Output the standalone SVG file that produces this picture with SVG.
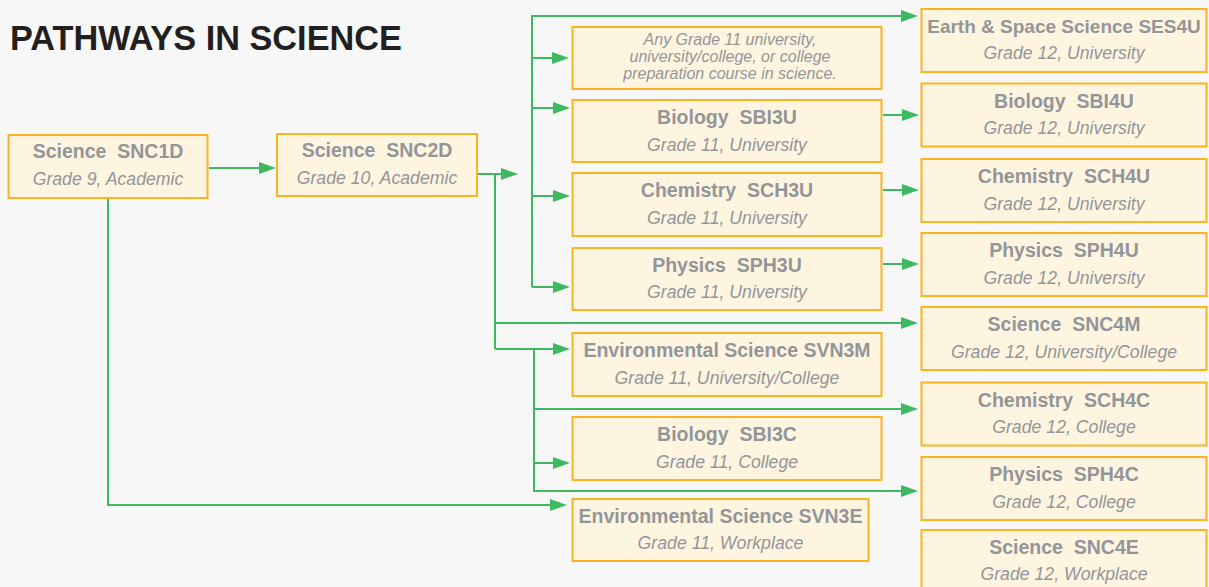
<svg xmlns="http://www.w3.org/2000/svg" width="1209" height="587" viewBox="0 0 1209 587">
<style>
.bg{fill:#f7f7f7}
.box{fill:#fef5e1;stroke:#fbb31f;stroke-width:2}
.t{font-family:"Liberation Sans",Arial,sans-serif;font-weight:bold;font-size:19.5px;fill:#939598;text-anchor:middle;white-space:pre}
.s{font-family:"Liberation Sans",Arial,sans-serif;font-style:italic;font-size:17.7px;fill:#939598;text-anchor:middle}
.n{font-family:"Liberation Sans",Arial,sans-serif;font-style:italic;font-size:16px;fill:#939598;text-anchor:middle}
.c{fill:none;stroke:#3fb862;stroke-width:2;marker-end:url(#ah)}
.c0{fill:none;stroke:#3fb862;stroke-width:2}
.title{font-family:"Liberation Sans",Arial,sans-serif;font-weight:bold;font-size:34.3px;fill:#231f20}
</style>
<defs>
<marker id="ah" markerUnits="userSpaceOnUse" markerWidth="17" markerHeight="12" refX="12" refY="6" orient="auto">
<path d="M0,0 L17,6 L0,12 Z" fill="#3fb862"/>
</marker>
</defs>
<rect class="bg" x="0" y="0" width="1209" height="587"/>
<text class="title" x="10" y="49.5">PATHWAYS IN SCIENCE</text>

<g id="connectors">
<path class="c" d="M209,168 H271"/>
<path class="c" d="M478,174 H513"/>
<path class="c0" d="M495,174 V349"/>
<path class="c" d="M495,349 H565"/>
<path class="c" d="M495,323 H913"/>
<path class="c" d="M532,287 V16 H913"/>
<path class="c" d="M532,287 H565"/>
<path class="c" d="M532,58 H564"/>
<path class="c" d="M532,108 H565"/>
<path class="c" d="M532,196 H565"/>
<path class="c" d="M534,349 V491 H913"/>
<path class="c" d="M534,409 H913"/>
<path class="c" d="M534,463 H565"/>
<path class="c" d="M883,115 H914"/>
<path class="c" d="M883,190 H914"/>
<path class="c" d="M883,264 H914"/>
<path class="c" d="M108,198 V505 H562"/>
</g>

<g id="snc1d"><rect class="box" x="8.5" y="135" width="199" height="63"/><text class="t" x="108" y="158">Science  SNC1D</text><text class="s" x="108" y="185">Grade 9, Academic</text></g>
<g id="snc2d"><rect class="box" x="277" y="134" width="200" height="62"/><text class="t" x="377" y="157">Science  SNC2D</text><text class="s" x="377" y="183.5">Grade 10, Academic</text></g>

<g id="any11"><rect class="box" x="572.5" y="27" width="309" height="62"/><text class="n" x="730" y="44.5">Any Grade 11 university,</text><text class="n" x="730" y="62">university/college, or college</text><text class="n" x="730" y="78.5">preparation course in science.</text></g>
<g id="sbi3u"><rect class="box" x="572.5" y="100" width="309" height="62"/><text class="t" x="727" y="124">Biology  SBI3U</text><text class="s" x="727" y="150.5">Grade 11, University</text></g>
<g id="sch3u"><rect class="box" x="572.5" y="173" width="309" height="63"/><text class="t" x="727" y="197">Chemistry  SCH3U</text><text class="s" x="727" y="223.5">Grade 11, University</text></g>
<g id="sph3u"><rect class="box" x="572.5" y="248" width="309" height="62"/><text class="t" x="727" y="272">Physics  SPH3U</text><text class="s" x="727" y="298">Grade 11, University</text></g>
<g id="svn3m"><rect class="box" x="572.5" y="333" width="309" height="63"/><text class="t" x="727" y="357">Environmental Science SVN3M</text><text class="s" x="727" y="383.5">Grade 11, University/College</text></g>
<g id="sbi3c"><rect class="box" x="572.5" y="417" width="309" height="63"/><text class="t" x="727" y="441">Biology  SBI3C</text><text class="s" x="727" y="467.5">Grade 11, College</text></g>
<g id="svn3e"><rect class="box" x="572.5" y="499" width="296" height="62"/><text class="t" x="720.5" y="523">Environmental Science SVN3E</text><text class="s" x="720.5" y="549">Grade 11, Workplace</text></g>

<g id="ses4u"><rect class="box" x="921.5" y="9" width="285" height="63"/><text class="t" x="1064" y="32.5" style="font-size:19px">Earth &amp; Space Science SES4U</text><text class="s" x="1064" y="59">Grade 12, University</text></g>
<g id="sbi4u"><rect class="box" x="921.5" y="83.5" width="285" height="63"/><text class="t" x="1064" y="108">Biology  SBI4U</text><text class="s" x="1064" y="134">Grade 12, University</text></g>
<g id="sch4u"><rect class="box" x="921.5" y="159" width="285" height="63"/><text class="t" x="1064" y="183">Chemistry  SCH4U</text><text class="s" x="1064" y="209.5">Grade 12, University</text></g>
<g id="sph4u"><rect class="box" x="921.5" y="233" width="285" height="63"/><text class="t" x="1064" y="257">Physics  SPH4U</text><text class="s" x="1064" y="283.5">Grade 12, University</text></g>
<g id="snc4m"><rect class="box" x="921.5" y="307" width="285" height="63"/><text class="t" x="1064" y="331">Science  SNC4M</text><text class="s" x="1064" y="357.5">Grade 12, University/College</text></g>
<g id="sch4c"><rect class="box" x="921.5" y="382.5" width="285" height="63"/><text class="t" x="1064" y="407">Chemistry  SCH4C</text><text class="s" x="1064" y="433">Grade 12, College</text></g>
<g id="sph4c"><rect class="box" x="921.5" y="457" width="285" height="63"/><text class="t" x="1064" y="481">Physics  SPH4C</text><text class="s" x="1064" y="507.5">Grade 12, College</text></g>
<g id="snc4e"><rect class="box" x="921.5" y="530" width="285" height="63"/><text class="t" x="1064" y="554">Science  SNC4E</text><text class="s" x="1064" y="579.5">Grade 12, Workplace</text></g>
</svg>
